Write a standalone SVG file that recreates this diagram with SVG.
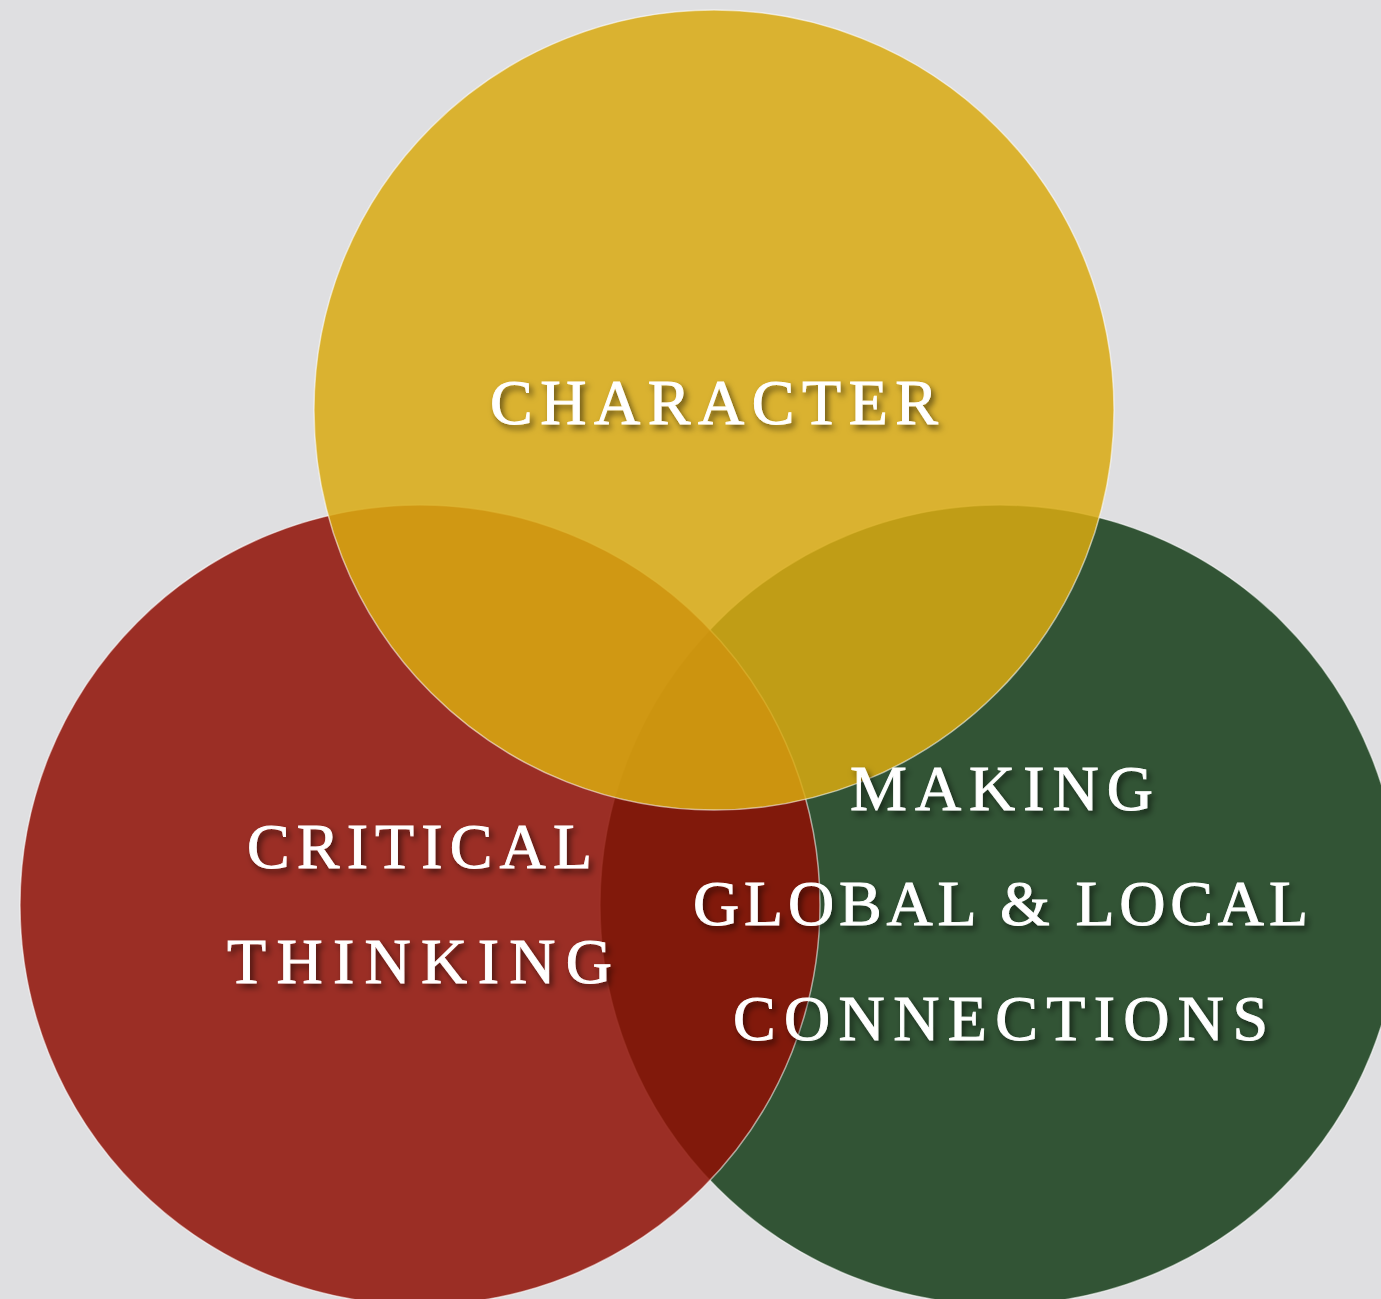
<svg xmlns="http://www.w3.org/2000/svg" width="1381" height="1299" viewBox="0 0 1381 1299">
<style>
.c{fill-opacity:0.85;stroke:#ffffff;stroke-opacity:0.55;stroke-width:1.5}
.t{font-family:"Liberation Serif","DejaVu Serif",serif;font-size:64px;fill:#ffffff;stroke:#ffffff;stroke-width:0.9;filter:url(#sh)}
</style>
<defs>
<filter id="sh" x="-10%" y="-30%" width="120%" height="160%">
<feDropShadow dx="3" dy="4" stdDeviation="3" flood-color="#000" flood-opacity="0.55"/>
</filter>
</defs>
<rect width="1381" height="1299" fill="#dfdfe1"/>
<g id="green"><circle class="c" cx="1000" cy="905" r="400" fill="#143c16"/></g>
<g id="red"><circle class="c" cx="420" cy="905" r="400" fill="#8f0f03"/></g>
<g id="yellow"><circle class="c" cx="714" cy="410" r="400" fill="#d9aa10"/></g>
<g id="connectors"></g>
<g id="labels">
<text class="t" x="490" y="424" textLength="448" lengthAdjust="spacing">CHARACTER</text>
<text class="t" x="247" y="868" textLength="345" lengthAdjust="spacing">CRITICAL</text>
<text class="t" x="227" y="983" textLength="385" lengthAdjust="spacing">THINKING</text>
<text class="t" x="850" y="810" textLength="303" lengthAdjust="spacing">MAKING</text>
<text class="t" x="693" y="925" textLength="615" lengthAdjust="spacing">GLOBAL &amp; LOCAL</text>
<text class="t" x="733" y="1040" textLength="535" lengthAdjust="spacing">CONNECTIONS</text>
</g>
</svg>
